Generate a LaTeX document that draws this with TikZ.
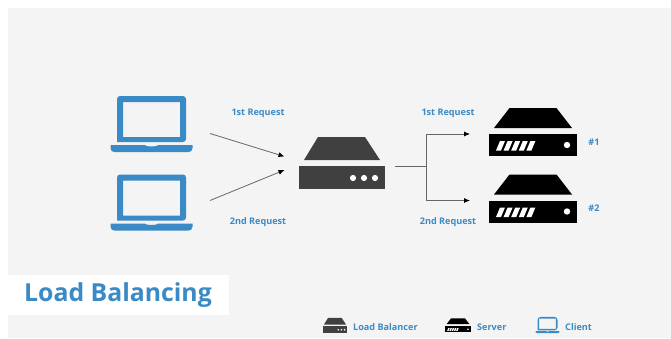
\documentclass[tikz,border=0pt]{standalone}
\usepackage{fontspec}
\setmainfont{Open Sans}
\usetikzlibrary{arrows.meta}
\definecolor{bgc}{HTML}{F4F4F4}
\definecolor{bluec}{HTML}{3A8AC6}
\definecolor{darkc}{HTML}{404040}
\tikzset{
  lbl/.style={text=bluec,font=\fontsize{9.1}{11}\selectfont\bfseries,inner sep=0pt},
  legendlbl/.style={lbl,anchor=west},
  conn/.style={draw=black!60,line width=.8pt,-{Latex[length=6pt,width=5pt,black]}},
  plain/.style={draw=black!60,line width=.8pt},
  laptopicon/.pic={
    \fill[bluec,even odd rule,rounded corners=.6pt] (-34.5,-26) [rounded corners=3pt] -- (34.5,-26) -- (34.5,20) [sharp corners] -- (-34.5,20) [rounded corners=3pt] -- cycle
      [sharp corners] (-28.5,-20) rectangle (28.5,15);
    \fill[bluec] (-41,23) -- (-7,23) .. controls (-6,25) and (6,25) .. (7,23) -- (41,23) -- (41,26) .. controls (41,29) and (39,30) .. (37,30) -- (-37,30) .. controls (-39,30) and (-41,29) .. (-41,26) -- cycle;
  },
  lbicon/.pic={
    \fill[darkc] (-24,-29) -- (23,-29) -- (38,-6) -- (-38,-6) -- cycle;
    \fill[darkc] (-43,0) rectangle (43,23);
    \foreach \dx in {11,22,33} \fill[white] (\dx,12) circle (3.1);
  },
  servericon/.pic={
    \fill[black] (-23.5,-26) -- (23.5,-26) -- (39,-6) -- (-39,-6) -- cycle;
    \fill[black] (-44,0) rectangle (44,22);
    \foreach \dx in {0,1,2,3,4}
      \fill[white] ({-37+7.6*\dx},16.5) -- ({-32+7.6*\dx},16.5) -- ({-28+7.6*\dx},7) -- ({-33+7.6*\dx},7) -- cycle;
    \fill[white] (34,11) circle (3.2);
  }
}
\begin{document}
\begin{tikzpicture}[x=1pt,y=-1pt]
\useasboundingbox (0,0) rectangle (671,338);
\fill[white] (0,0) rectangle (671,338);
\fill[bgc] (8,8) rectangle (671,338);
\fill[white] (8,275) rectangle (229,315);

\pic at (151.5,122) {laptopicon};
\pic at (151.5,200.5) {laptopicon};
\pic at (342,166) {lbicon};
\pic at (533,134) {servericon};
\pic at (533,200.5) {servericon};

\node[lbl] (reqA) at (258,113.5) {1st Request};
\node[lbl] (reqB) at (258,222.5) {2nd Request};
\node[lbl] (reqC) at (448,113.5) {1st Request};
\node[lbl] (reqD) at (448,222.5) {2nd Request};
\node[lbl] (numA) at (594,142) {\#1};
\node[lbl] (numB) at (594,208) {\#2};

\node[text=bluec,font=\fontsize{24.8}{28}\selectfont\bfseries,inner sep=0pt,anchor=west] (title) at (24,295) {Load Balancing};

\coordinate (clientA) at (210,133.5);
\coordinate (clientB) at (210,200.5);
\coordinate (lbinA) at (284.5,156.5);
\coordinate (lbinB) at (284.5,170);
\coordinate (lbout) at (395,166);
\coordinate (fork) at (426,166);
\coordinate (srvA) at (470,134);
\coordinate (srvB) at (470,200.5);

\draw[conn] (clientA) -- (lbinA);
\draw[conn] (clientB) -- (lbinB);
\draw[plain] (lbout) -- (fork);
\draw[conn] (fork) |- (srvA);
\draw[conn] (fork) |- (srvB);

\pic[scale=.29] at (335,326.3) {lbicon};
\pic[scale=.295] at (458,326) {servericon};
\pic[scale=.29] at (547.5,324.5) {laptopicon};

\node[legendlbl] (legLB) at (353,327.5) {Load Balancer};
\node[legendlbl] (legSrv) at (477,327.5) {Server};
\node[legendlbl] (legCl) at (565,327.5) {Client};
\end{tikzpicture}
\end{document}
